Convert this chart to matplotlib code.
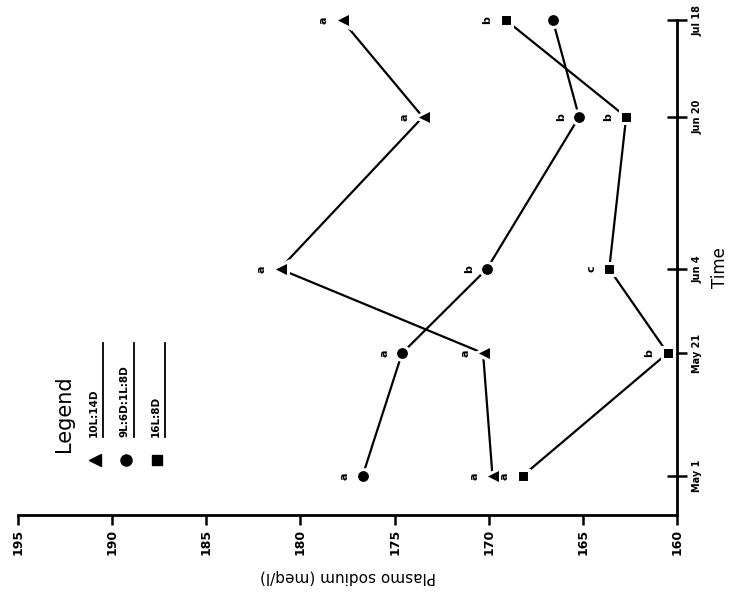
import matplotlib
matplotlib.use("Agg")
import matplotlib.pyplot as plt

# ---- data ----
time_labels = ["May 1", "May 21", "Jun 4", "Jun 20", "Jul 18"]
time_pos = [0, 21, 35.4, 61.4, 78]          # axis positions of the sampling dates
series_names = ["10L:14D", "9L:6D:1L:8D", "16L:8D"]
sodium_10L14D = [169.8, 170.3, 181.1, 173.5, 177.8]
sodium_9L6D1L8D = [176.7, 174.6, 170.1, 165.2, 166.6]
sodium_16L8D = [168.2, 160.5, 163.6, 162.7, 169.1]
letters_10L14D = ["a", "a", "a", "a", "a"]
letters_9L6D1L8D = ["a", "a", "b", "b", ""]
letters_16L8D = ["a", "b", "c", "b", "b"]
sodium_ticks = [195, 190, 185, 180, 175, 170, 165, 160]

W, H = 729, 598
fig = plt.figure(figsize=(W / 100, H / 100), dpi=100)
plt.rcParams['font.family'] = ['DejaVu Sans']

def fx(x):
    return x / W

def fy(y):
    return 1 - y / H

ax = fig.add_axes([fx(18), fy(515), fx(677) - fx(18), fy(20) - fy(515)])
ax.set_xlim(195, 160)
ax.set_ylim(-6.7, 78)

series = [
    (sodium_10L14D, letters_10L14D, "<", 11),
    (sodium_9L6D1L8D, letters_9L6D1L8D, "o", 10),
    (sodium_16L8D, letters_16L8D, "s", 9),
]
for vals, lets, mk, ms in series:
    ax.plot(vals, time_pos, color="black", lw=1.6, zorder=2, clip_on=False)
    ax.plot(vals, time_pos, ls="none", marker=mk, ms=ms, color="black",
            mec="white", mew=2.2, zorder=3, clip_on=False)
    for v, t, l in zip(vals, time_pos, lets):
        if l:
            ax.annotate(l, (v, t), xytext=(-13, 0), textcoords="offset points",
                        rotation=90, ha="center", va="center", fontsize=8,
                        fontweight="bold", annotation_clip=False)

for s in ["top", "left"]:
    ax.spines[s].set_visible(False)
ax.spines["bottom"].set_linewidth(2)
ax.spines["right"].set_linewidth(2)

ax.set_xticks(sodium_ticks)
ax.set_xticklabels([str(t) for t in sodium_ticks], rotation=90,
                   fontsize=9, fontweight="bold")
ax.tick_params(axis="x", direction="out", length=7, width=1.8, pad=3)

ax.yaxis.tick_right()
ax.set_yticks(time_pos)
ax.set_yticklabels(time_labels, rotation=90, fontsize=7, fontweight="bold",
                   va="center")
ax.tick_params(axis="y", direction="inout", length=14, width=1.8, pad=4)
ax.spines["right"].set_bounds(-6.7, 78)

ax.yaxis.set_label_position("right")
ax.set_ylabel("Time", rotation=90, fontsize=12, labelpad=6)
ax.set_xlabel("Plasmo sodium (meq/l)", rotation=180, fontsize=11, labelpad=10)

# ---- legend ----
fig.text(fx(64), fy(452), "Legend", rotation=90, rotation_mode="anchor",
         ha="left", va="center", fontsize=15)
leg_x = [95, 126, 157]
leg_mk = [("<", 9), ("o", 8), ("s", 7)]
for name, x, (mk, ms) in zip(series_names, leg_x, leg_mk):
    fig.lines.append(plt.Line2D([fx(x)], [fy(460)], transform=fig.transFigure,
                                marker=mk, ms=ms, color="black", ls="none"))
    fig.text(fx(x - 1), fy(437), name, rotation=90, rotation_mode="anchor",
             ha="left", va="center", fontsize=7.5, fontweight="bold")
    fig.lines.append(plt.Line2D([fx(x + 8), fx(x + 8)], [fy(437), fy(343)],
                                transform=fig.transFigure, color="black", lw=1.3))

fig.savefig("out.png", dpi=100)
